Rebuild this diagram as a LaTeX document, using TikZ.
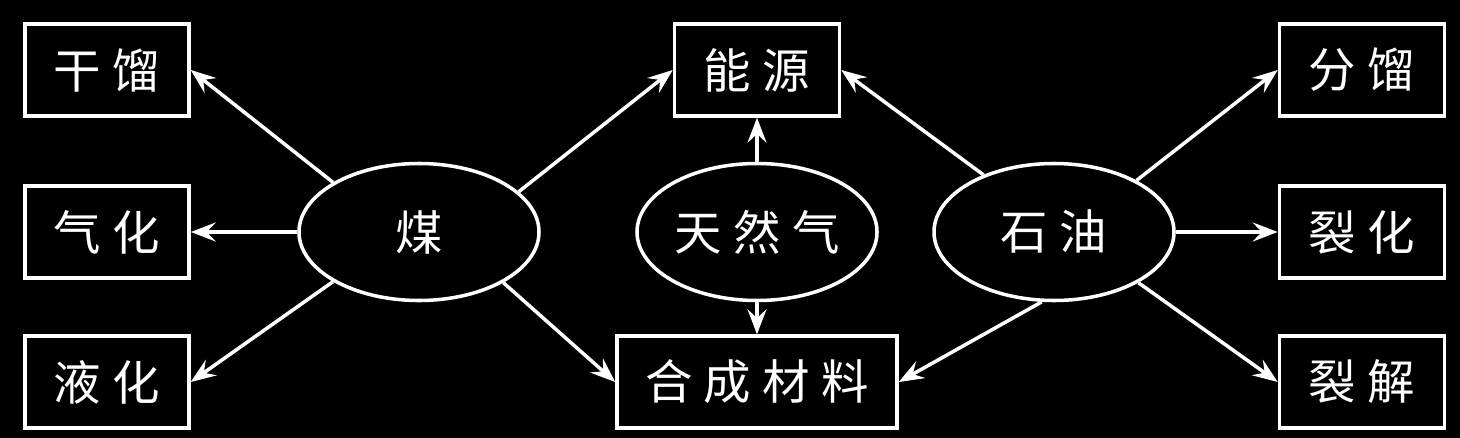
\documentclass[tikz,border=0pt]{standalone}
\usepackage{fontspec}
\newfontfamily\cjk[LetterSpace=24]{Noto Sans CJK SC}
\usetikzlibrary{shapes.geometric,arrows.meta}
\begin{document}
\begin{tikzpicture}[x=0.2mm,y=-0.2mm,>={Stealth[length=5mm,width=3.8mm,inset=1.8mm]},line width=2pt,
	font=\cjk\fontsize{27}{32}\selectfont,
	rbox/.style={draw=white,text=white,minimum height=1.84cm,minimum width=3.3cm,inner sep=0pt},
	oval/.style={draw=white,text=white,ellipse,minimum width=4.8cm,minimum height=2.74cm,inner sep=0pt}]
		\fill[black] (0,0) rectangle (1460,438);
		\node[oval] (coal) at (419,232) {煤};
		\node[oval] (gas) at (757,232) {天然气};
		\node[oval] (oil) at (1054,232) {石油};
		\node[rbox] (energy) at (757,70) {能源};
		\node[rbox,minimum width=5.6cm] (synth) at (757,382) {合成材料};
		\foreach \t/\n/\y in {干馏/dry/70,气化/gasify/232,液化/liquefy/382}\node[rbox,minimum width=3.28cm] (\n) at (107,\y) {\t};
		\foreach \t/\n/\y in {分馏/fract/70,裂化/crack/232,裂解/pyro/382}\node[rbox] (\n) at (1362,\y) {\t};
		\draw[->,white] (coal.150)--(dry.east);
		\draw[->,white] (coal.west)--(gasify.east);
		\draw[->,white] (coal.210)--(liquefy.east);
		\draw[->,white] (coal.22)--(energy.west);
		\draw[->,white] (coal.-31)--(synth.west);
		\draw[->,white] (gas.north)--(energy.south);
		\draw[->,white] (gas.south)--(synth.north);
		\draw[->,white] (oil.141)--(energy.east);
		\draw[->,white] (oil.-100)--(synth.east);
		\draw[->,white] (oil.32)--(fract.west);
		\draw[->,white] (oil.east)--(crack.west);
		\draw[->,white] (oil.-31)--(pyro.west);
\end{tikzpicture}
\end{document}
